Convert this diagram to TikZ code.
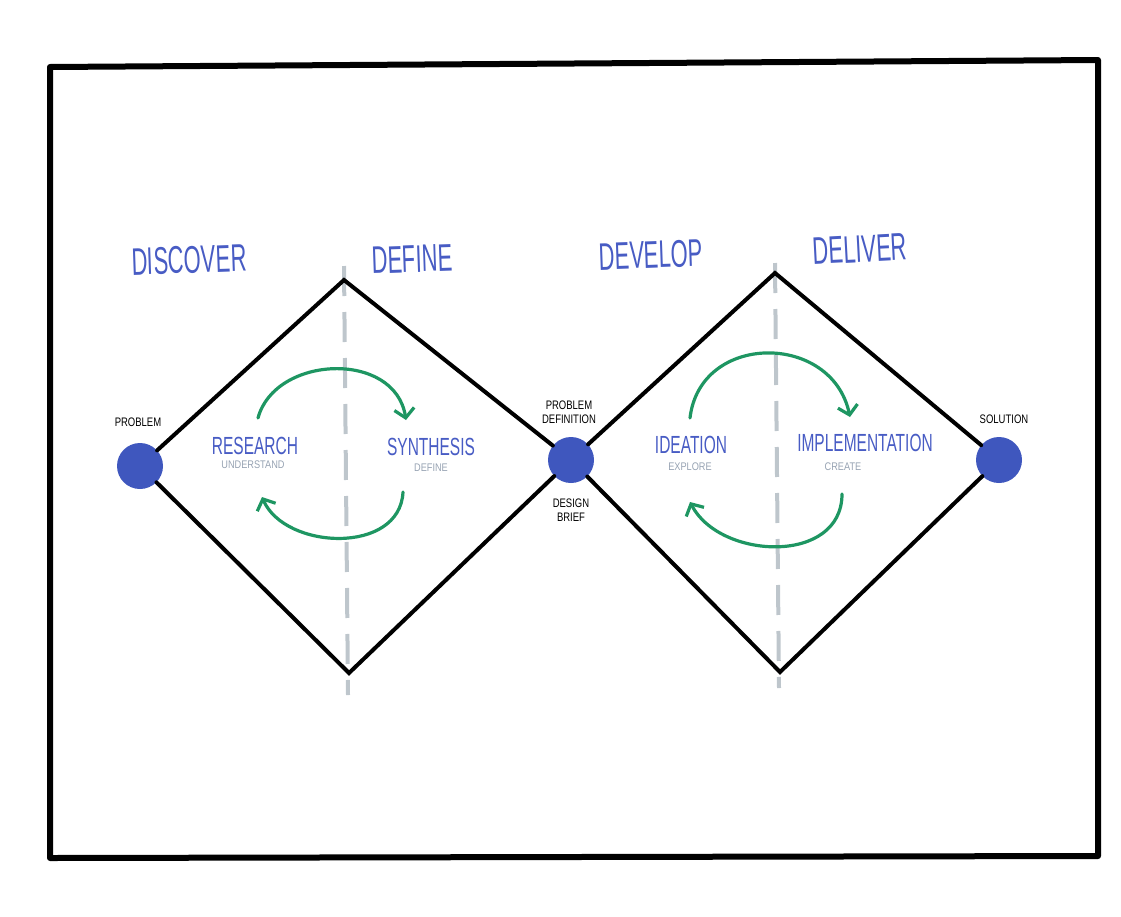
\documentclass[tikz,border=0pt]{standalone}
\usepackage{fontspec}
\setmainfont{Liberation Sans}
\usetikzlibrary{arrows.meta}
\definecolor{hwblue}{RGB}{72,92,196}
\definecolor{dotblue}{RGB}{63,87,190}
\definecolor{hwgreen}{RGB}{30,150,98}
\definecolor{dashgray}{RGB}{190,198,204}
\definecolor{subgray}{RGB}{150,162,178}
\newcommand{\stretchtxt}[2]{\scalebox{1}[#1]{#2}}
\tikzset{
  frame/.style={line width=6pt, line join=round, line cap=round},
  edge/.style={line width=4pt, line cap=round},
  dot/.style={circle, fill=dotblue, minimum size=46pt, inner sep=0pt},
  divider/.style={dashgray, line width=4pt, dash pattern=on 30pt off 16pt},
  loop/.style={hwgreen, line width=3.2pt, line cap=round, line join=round,
    -{Straight Barb[length=9pt,width=20pt,line width=3.2pt]}},
  phase/.style={text=hwblue, font=\fontsize{22}{22}\selectfont, inner sep=0pt},
  activity/.style={text=hwblue, font=\fontsize{15.5}{15.5}\selectfont, inner sep=0pt},
  sub/.style={text=subgray, font=\fontsize{9.2}{9.2}\selectfont, inner sep=0pt},
  tag/.style={text=black, font=\fontsize{9.5}{11}\selectfont, inner sep=0pt, align=center},
}
\begin{document}
\begin{tikzpicture}[x=1pt,y=-1pt]
\useasboundingbox (0,0) rectangle (1121,916);
% frame
\draw[frame] (50,67) -- (1098,60) -- (1098,856) -- (50,858) -- cycle;
% dividers
\coordinate (d1a) at (344,266); \coordinate (d1b) at (348,695);
\coordinate (d2a) at (775,263); \coordinate (d2b) at (779,688);
\draw[divider] (d1a) -- (d1b);
\draw[divider] (d2a) -- (d2b);
% nodes
\node[dot] (p1) at (140,466) {};
\node[dot] (p2) at (571,460) {};
\node[dot] (p3) at (999,460) {};
\coordinate (t1) at (344,280);
\coordinate (b1) at (349,673);
\coordinate (t2) at (775,273);
\coordinate (b2) at (780,672);
% diamonds
\draw[edge] (p1) -- (t1) -- (p2);
\draw[edge] (p1) -- (b1) -- (p2);
\draw[edge] (p2) -- (t2) -- (p3);
\draw[edge] (p2) -- (b2) -- (p3);
% loops
\coordinate (a1s) at (258,418); \coordinate (a1e) at (406,420);
\coordinate (a2s) at (403,492); \coordinate (a2e) at (262,497);
\coordinate (a3s) at (690,418); \coordinate (a3e) at (850,417);
\coordinate (a4s) at (842,494); \coordinate (a4e) at (690,502);
\draw[loop] (a1s) .. controls (275,355) and (395,350) .. (a1e);
\draw[loop] (a2s) .. controls (400,555) and (285,550) .. (a2e);
\draw[loop] (a3s) .. controls (700,332) and (832,332) .. (a3e);
\draw[loop] (a4s) .. controls (842,565) and (720,560) .. (a4e);
% phase titles
\node[phase, rotate=2] (discover) at (189,260) {\stretchtxt{1.75}{DISCOVER}};
\node[phase, rotate=2] (define) at (412,259) {\stretchtxt{1.75}{DEFINE}};
\node[phase, rotate=2] (develop) at (651,255) {\stretchtxt{1.75}{DEVELOP}};
\node[phase, rotate=3] (deliver) at (860,249) {\stretchtxt{1.75}{DELIVER}};
% activities
\node[activity] (research) at (255,446) {\stretchtxt{1.6}{RESEARCH}};
\node[sub] (understand) at (253,465) {\stretchtxt{1.2}{UNDERSTAND}};
\node[activity] (synthesis) at (431,447) {\stretchtxt{1.6}{SYNTHESIS}};
\node[sub] (definesub) at (431,468) {\stretchtxt{1.2}{DEFINE}};
\node[activity] (ideation) at (691,445) {\stretchtxt{1.6}{IDEATION}};
\node[sub] (explore) at (690,467) {\stretchtxt{1.2}{EXPLORE}};
\node[activity] (implementation) at (865,443) {\stretchtxt{1.6}{IMPLEMENTATION}};
\node[sub] (create) at (843,467) {\stretchtxt{1.2}{CREATE}};
% tags
\node[tag] (problem) at (138,422) {\stretchtxt{1.3}{PROBLEM}};
\node[tag] (probdef) at (569,412) {\stretchtxt{1.3}{PROBLEM}\\[3pt]\stretchtxt{1.3}{DEFINITION}};
\node[tag] (brief) at (571,510) {\stretchtxt{1.3}{DESIGN}\\[3pt]\stretchtxt{1.3}{BRIEF}};
\node[tag] (solution) at (1004,419) {\stretchtxt{1.3}{SOLUTION}};
\end{tikzpicture}
\end{document}
